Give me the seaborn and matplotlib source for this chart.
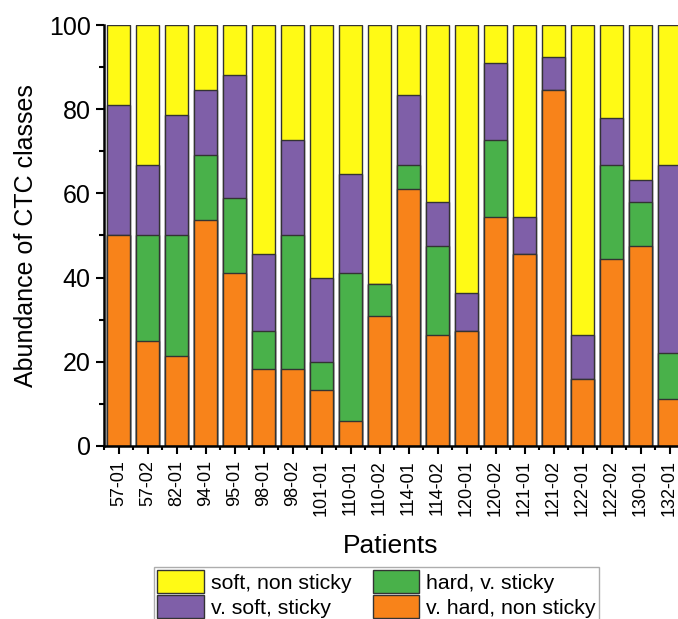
import numpy as np
import pandas as pd
import matplotlib
matplotlib.use("Agg")
import matplotlib.pyplot as plt
import seaborn as sns
from matplotlib.patches import Patch
from matplotlib.ticker import FixedLocator, MultipleLocator

# ── Data (percent of CTCs per class, per patient sample) ──────────────────────
patients = ["57-01", "57-02", "82-01", "94-01", "95-01", "98-01", "98-02",
            "101-01", "110-01", "110-02", "114-01", "114-02", "120-01", "120-02",
            "121-01", "121-02", "122-01", "122-02", "130-01", "132-01"]

v_hard_non_sticky = [50.0, 25.0, 21.4, 53.8, 41.2, 18.2, 18.2, 13.3, 5.9, 30.8,
                     61.1, 26.3, 27.3, 54.5, 45.5, 84.6, 15.8, 44.4, 47.4, 11.1]
hard_v_sticky     = [0.0, 25.0, 28.6, 15.4, 17.6, 9.1, 31.8, 6.7, 35.3, 7.7,
                     5.6, 21.1, 0.0, 18.2, 0.0, 0.0, 0.0, 22.3, 10.5, 11.1]
v_soft_sticky     = [31.0, 16.7, 28.6, 15.4, 29.4, 18.2, 22.7, 20.0, 23.5, 0.0,
                     16.6, 10.5, 9.1, 18.2, 9.0, 7.7, 10.5, 11.1, 5.3, 44.5]
soft_non_sticky   = [19.0, 33.3, 21.4, 15.4, 11.8, 54.5, 27.3, 60.0, 35.3, 61.5,
                     16.7, 42.1, 63.6, 9.1, 45.5, 7.7, 73.7, 22.2, 36.8, 33.3]

class_names  = ["v. hard, non sticky", "hard, v. sticky", "v. soft, sticky", "soft, non sticky"]
class_colors = ["#F8831A", "#49B14A", "#7F5FA8", "#FFFA15"]

df = pd.DataFrame({
    "patient": patients,
    class_names[0]: v_hard_non_sticky,
    class_names[1]: hard_v_sticky,
    class_names[2]: v_soft_sticky,
    class_names[3]: soft_non_sticky,
})
cum = df[class_names].cumsum(axis=1)

# ── Style ─────────────────────────────────────────────────────────────────────
sns.set_style("ticks")
plt.rcParams["font.family"] = ["Liberation Sans", "DejaVu Sans"]
for key in ["text.color", "axes.labelcolor", "xtick.color", "ytick.color"]:
    plt.rcParams[key] = "black"

fig = plt.figure(figsize=(6.78, 6.19), dpi=100)
ax = fig.add_axes([0.1534, 0.2795, 0.8466, 0.6801])

# draw stacked bars top layer first, each as cumulative height
for name, color in zip(class_names[::-1], class_colors[::-1]):
    sns.barplot(x=df["patient"], y=cum[name], order=patients, color=color,
                width=0.8, edgecolor="#333333", linewidth=1.0,
                errorbar=None, saturation=1, ax=ax)

ax.set_xlim(-0.5, 19.29)
ax.set_ylim(0, 100)
ax.yaxis.set_major_locator(MultipleLocator(20))
ax.yaxis.set_minor_locator(MultipleLocator(10))
ax.xaxis.set_minor_locator(FixedLocator(np.arange(-0.5, 20, 1)))

ax.tick_params(axis="y", which="major", labelsize=18, length=6, width=1.5)
ax.tick_params(axis="y", which="minor", length=3.5, width=1.5)
ax.tick_params(axis="x", which="major", labelsize=13, length=6, width=1.5,
               rotation=90, pad=4)
ax.tick_params(axis="x", which="minor", length=3, width=1.5)

ax.set_xlabel("Patients", fontsize=19, labelpad=13)
ax.set_ylabel("Abundance of CTC classes", fontsize=18, labelpad=8)

sns.despine(ax=ax, top=True, right=True)
for s in ["left", "bottom"]:
    ax.spines[s].set_linewidth(1.8)
    ax.spines[s].set_color("black")

# legend, column-major: yellow/purple then green/orange
leg_order = [3, 2, 1, 0]
handles = [Patch(facecolor=class_colors[i], edgecolor="#333333", linewidth=1.0)
           for i in leg_order]
labels = [class_names[i] for i in leg_order]
fig.legend(handles, labels, ncol=2, loc="upper left",
           bbox_to_anchor=(154 / 678, 1 - 567 / 619), fontsize=15.3,
           frameon=True, fancybox=False, edgecolor="#999999",
           handlelength=2.2, handleheight=1.25, handletextpad=0.33,
           labelspacing=0.12, columnspacing=1.0, borderpad=0.15,
           borderaxespad=0)

fig.savefig("out.png", dpi=100)
plt.close(fig)
